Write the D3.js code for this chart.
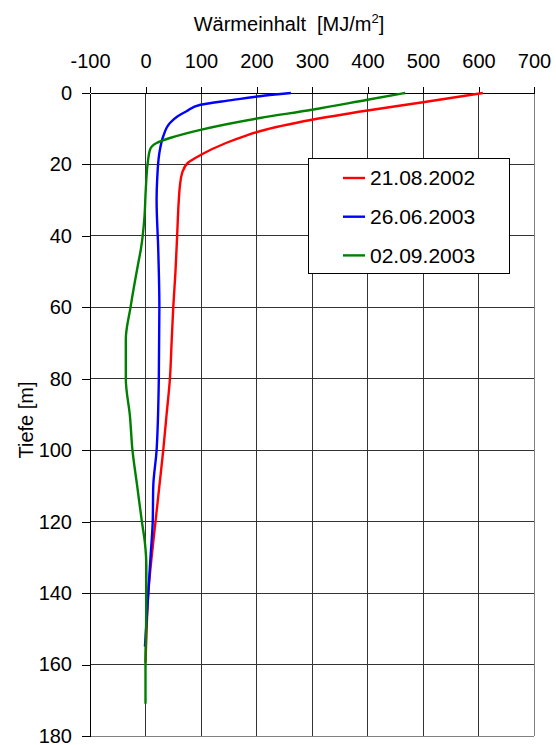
<!DOCTYPE html>
<html>
<head>
<meta charset="utf-8">
<script src="https://cdn.jsdelivr.net/npm/d3@7"></script>
<style>
  body { margin: 0; background: #fff; }
  text { font-family: Arial, "Liberation Sans", sans-serif; }
</style>
</head>
<body>
<div id="chart"></div>
<script>
// depth profiles (Tiefe in m) and heat content (MJ/m2)
const depth_2002 = [0, 2.6, 4.9, 7.5, 10.7, 12, 14, 17.3, 19.6, 22.4, 26, 30, 40, 50, 60, 70, 80, 90, 100, 110, 120, 130, 140, 150, 159.5]
const heat_2002 = [608, 500, 400, 300, 206, 180, 145, 100, 76, 66, 62, 60, 57, 54, 50, 47, 44, 38, 32, 25, 18, 11, 5, 2, 0]

const depth_2003a = [0, 0.9, 2, 3.3, 5.1, 6.5, 8.4, 12.1, 16.8, 24.3, 30, 44, 60, 80, 100, 110, 120, 130, 140, 150, 155]
const heat_2003a = [262, 206, 155, 99, 74, 58, 44, 32, 25, 21, 20, 23, 25, 24, 20, 14, 13, 9, 5, 1, -1]

const depth_2003b = [0, 1.9, 4.7, 7.0, 10.3, 12.6, 14, 15.9, 19.6, 27, 35, 43.9, 47.6, 60, 69, 80, 90.5, 100, 110, 120, 126, 132.5, 140, 150, 160, 171]
const heat_2003b = [468, 400, 300, 206, 99, 44, 20, 8, 4, 0.5, -2, -8.5, -13, -27, -35.5, -35.5, -28, -23.5, -15, -6.5, -1, 1.5, 1.5, 1, 0, 0]

const seriesNames = ["21.08.2002", "26.06.2003", "02.09.2003"]
const seriesColors = ["#ff0000", "#0000ff", "#008000"]
const xTicks = [-100, 0, 100, 200, 300, 400, 500, 600, 700]
const yTicks = [0, 20, 40, 60, 80, 100, 120, 140, 160, 180]

const series = [
    { name: seriesNames[0], color: seriesColors[0], depth: depth_2002, heat: heat_2002 },
    { name: seriesNames[1], color: seriesColors[1], depth: depth_2003a, heat: heat_2003a },
    { name: seriesNames[2], color: seriesColors[2], depth: depth_2003b, heat: heat_2003b }
]

const W = 556, H = 745
const plot = { left: 90, right: 534, top: 93, bottom: 736 }

const svg = d3.select("#chart")
    .append("svg")
    .attr("width", W)
    .attr("height", H)

const x = d3.scaleLinear().domain([-100, 700]).range([plot.left, plot.right])
const y = d3.scaleLinear().domain([0, 180]).range([plot.top, plot.bottom])

// grid
const grid = svg.append("g").attr("shape-rendering", "crispEdges")
grid.selectAll(".vg")
    .data(xTicks.slice(1))
    .join("line")
    .attr("x1", d => x(d)).attr("x2", d => x(d))
    .attr("y1", plot.top).attr("y2", plot.bottom)
    .attr("stroke", d => d === 700 ? "#808080" : "#333")
grid.selectAll(".hg")
    .data(yTicks.slice(1))
    .join("line")
    .attr("x1", plot.left).attr("x2", plot.right)
    .attr("y1", d => y(d)).attr("y2", d => y(d))
    .attr("stroke", d => d === 180 ? "#808080" : "#333")

// axes
const xAxis = svg.append("g")
    .attr("transform", `translate(0,${plot.top})`)
    .call(d3.axisTop(x).tickValues(xTicks).tickFormat(d => String(d))
        .tickSize(6).tickPadding(19).tickSizeOuter(0))
const yAxis = svg.append("g")
    .attr("transform", `translate(${plot.left},0)`)
    .call(d3.axisLeft(y).tickValues(yTicks).tickFormat(d => String(d))
        .tickSize(8).tickPadding(10).tickSizeOuter(0))

for (const ax of [xAxis, yAxis]) {
    ax.attr("shape-rendering", "crispEdges")
    ax.selectAll("path, line").attr("stroke", "#000")
    ax.selectAll("text")
        .attr("fill", "#000")
        .style("font-size", "20px")
        .style("font-family", "Arial, 'Liberation Sans', sans-serif")
}

// curves
const line = d3.line()
    .x(d => x(d[1]))
    .y(d => y(d[0]))
    .curve(d3.curveMonotoneY)

svg.append("g")
    .selectAll("path")
    .data(series)
    .join("path")
    .attr("d", s => line(d3.zip(s.depth, s.heat)))
    .attr("fill", "none")
    .attr("stroke", s => s.color)
    .attr("stroke-width", 2.4)
    .attr("stroke-linejoin", "round")

// titles
const title = svg.append("text")
    .attr("x", 289)
    .attr("y", 31)
    .attr("text-anchor", "middle")
    .style("font-size", "20px")
    .style("white-space", "pre")
title.append("tspan").text("Wärmeinhalt  [MJ/m")
title.append("tspan").text("2").attr("dy", -8).style("font-size", "13px")
title.append("tspan").text("]").attr("dy", 8)

svg.append("text")
    .attr("transform", "translate(33,420) rotate(-90)")
    .attr("text-anchor", "middle")
    .style("font-size", "20px")
    .text("Tiefe [m]")

// legend
const legend = svg.append("g").attr("transform", "translate(308,158)")
legend.append("rect")
    .attr("width", 201).attr("height", 115)
    .attr("fill", "#fff").attr("stroke", "#000")
    .attr("shape-rendering", "crispEdges")
const items = legend.selectAll(".item")
    .data(series)
    .join("g")
    .attr("transform", (d, i) => `translate(0,${20 + i * 38.7})`)
items.append("line")
    .attr("x1", 35).attr("x2", 57)
    .attr("stroke", d => d.color)
    .attr("stroke-width", 2.4)
items.append("text")
    .attr("x", 62)
    .attr("dy", "0.35em")
    .style("font-size", "21px")
    .text(d => d.name)
</script>
</body>
</html>
